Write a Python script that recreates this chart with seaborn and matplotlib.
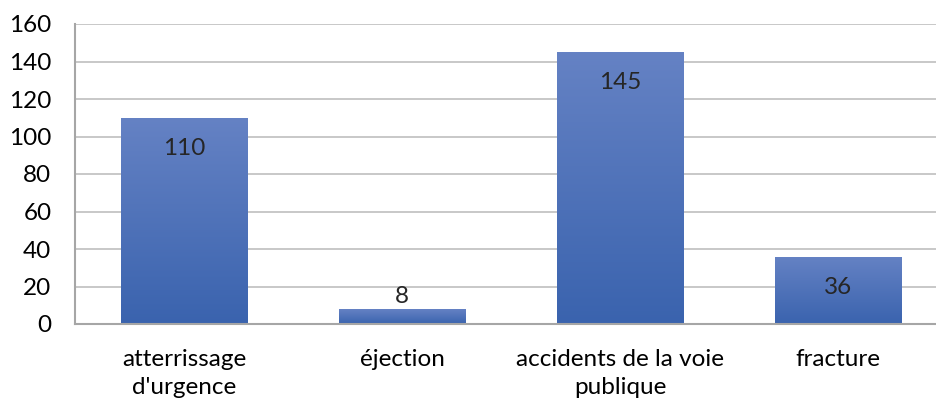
import numpy as np
import matplotlib.pyplot as plt
import seaborn as sns
from matplotlib.colors import LinearSegmentedColormap

categories = ["atterrissage\nd'urgence", "éjection", "accidents de la voie\npublique", "fracture"]
values = [110, 8, 145, 36]
yticks = [0, 20, 40, 60, 80, 100, 120, 140, 160]

sns.set_style("white")
plt.rcParams['font.family'] = ['Lato', 'DejaVu Sans']

fig = plt.figure(figsize=(9.36, 4.03), dpi=100)
ax = fig.add_axes([75/936, 79/403, 872/936, 300/403])

sns.barplot(x=categories, y=values, color="#4a6fb8", width=0.58, ax=ax, zorder=2)

ax.set_ylim(0, 160)
ax.set_xlim(-0.5, 3.5)
ax.set_yticks(yticks)
ax.yaxis.grid(True, color="#bfbfbf", linewidth=1.2, zorder=0)
ax.set_axisbelow(True)
for s in ["top", "right"]:
    ax.spines[s].set_visible(False)
for s in ["left", "bottom"]:
    ax.spines[s].set_color("#a6a6a6")
    ax.spines[s].set_linewidth(1.5)
ax.tick_params(axis="both", length=0, labelsize=17.5, colors="black")
ax.tick_params(axis="x", pad=18)
ax.tick_params(axis="y", pad=17)
for lbl in ax.get_xticklabels():
    lbl.set_linespacing(1.42)
ax.set_xlabel("")
ax.set_ylabel("")

# vertical gradient on bars
cmap = LinearSegmentedColormap.from_list("g", ["#3a63ae", "#6582c4"])
grad = np.linspace(0, 1, 256).reshape(-1, 1)
for p in ax.patches:
    x0, y0 = p.get_x(), p.get_y()
    w, h = p.get_width(), p.get_height()
    p.set_facecolor("none")
    p.set_edgecolor("none")
    im = ax.imshow(grad, cmap=cmap, aspect="auto", origin="lower",
                   extent=[x0, x0 + w, y0, y0 + h], zorder=2)
    im.set_clip_path(p)
ax.set_xlim(-0.5, 3.5)
ax.set_ylim(0, 160)

for i, v in enumerate(values):
    if v > 20:
        ax.annotate(str(v), (i, v), xytext=(0, -22), textcoords="offset points",
                    ha="center", va="center", fontsize=17.5, zorder=3)
    else:
        ax.annotate(str(v), (i, v), xytext=(0, 9), textcoords="offset points",
                    ha="center", va="center", fontsize=17.5, zorder=3)

fig.savefig("out.png", dpi=100)
